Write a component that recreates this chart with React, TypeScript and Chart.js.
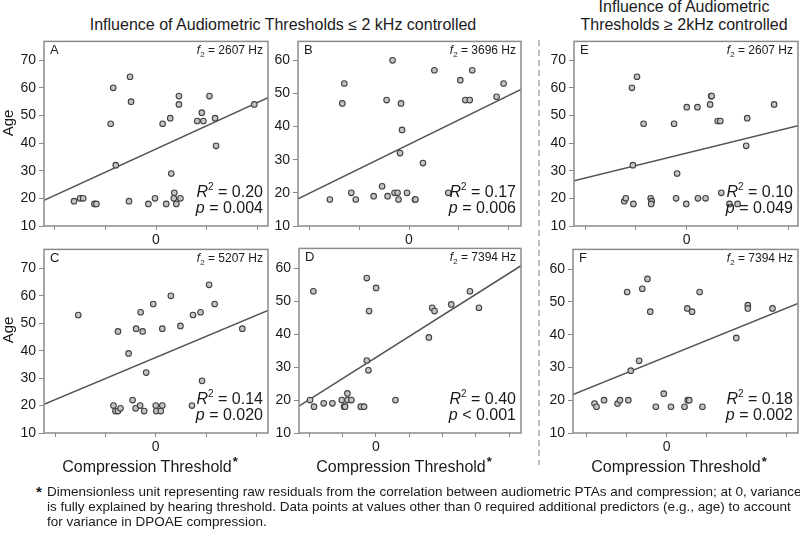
import React, { useEffect, useRef } from 'react';
import { Chart, registerables } from 'chart.js';
Chart.register(...registerables);

const FONT = "'Liberation Sans', Arial, Helvetica, sans-serif";
Chart.defaults.font.family = FONT;

// ---------- data ----------
const ageTicks70 = [10, 20, 30, 40, 50, 60, 70];
const ageTicks60 = [10, 20, 30, 40, 50, 60];
const xTicksSym = [-2, -1, 0, 1, 2];
const xTicksD = [-2, -1, 0, 1, 2, 3, 4];
const xTicksF = [-2, -1, 0, 1, 2, 3];

const panelA_x = [-1.61, -1.49, -1.43, -1.21, -1.17, -0.89, -0.84, -0.79, -0.53, -0.51, -0.49, -0.15, -0.02, 0.13, 0.2, 0.28, 0.3, 0.35, 0.36, 0.4, 0.45, 0.45, 0.48, 0.81, 0.9, 0.93, 1.05, 1.16, 1.18, 1.93];
const panelA_age = [19, 20, 20, 18, 18, 47, 60, 32, 19, 64, 55, 18, 20, 47, 18, 49, 29, 20, 22, 18, 57, 54, 20, 48, 51, 48, 57, 49, 39, 54];

const panelB_x = [-1.59, -1.34, -1.3, -1.16, -1.07, -0.71, -0.54, -0.45, -0.43, -0.33, -0.29, -0.23, -0.21, -0.18, -0.16, -0.14, -0.04, 0.12, 0.13, 0.28, 0.51, 0.79, 1.03, 1.13, 1.22, 1.27, 1.76, 1.9];
const panelB_age = [18, 47, 53, 20, 18, 19, 22, 48, 19, 60, 20, 20, 18, 32, 47, 39, 20, 18, 18, 29, 57, 20, 54, 48, 48, 57, 49, 53];

const panelC_x = [-1.54, -0.84, -0.8, -0.75, -0.75, -0.7, -0.54, -0.46, -0.4, -0.39, -0.31, -0.3, -0.26, -0.23, -0.19, -0.05, 0.0, 0.01, 0.1, 0.13, 0.13, 0.3, 0.49, 0.72, 0.74, 0.89, 0.92, 1.06, 1.17, 1.72];
const panelC_age = [53, 20, 18, 18, 47, 19, 39, 22, 19, 48, 20, 54, 47, 18, 32, 57, 20, 18, 18, 20, 48, 60, 49, 20, 53, 54, 29, 64, 57, 48];

const panelD_x = [-1.97, -1.87, -1.85, -1.56, -1.3, -1.02, -0.95, -0.92, -0.85, -0.85, -0.73, -0.45, -0.35, -0.27, -0.27, -0.22, -0.2, 0.01, 0.59, 1.59, 1.69, 1.76, 2.26, 2.82, 3.09];
const panelD_age = [20, 53, 18, 19, 19, 20, 18, 18, 22, 20, 20, 18, 18, 57, 32, 29, 47, 54, 20, 39, 48, 47, 49, 53, 48];

const panelE_x = [-1.23, -1.2, -1.08, -1.06, -1.05, -0.98, -0.85, -0.71, -0.69, -0.7, -0.25, -0.19, -0.21, -0.01, 0.0, 0.21, 0.22, 0.37, 0.46, 0.48, 0.49, 0.61, 0.66, 0.68, 0.84, 1.0, 1.17, 1.19, 1.72];
const panelE_age = [19, 20, 60, 32, 18, 64, 47, 20, 19, 18, 47, 29, 20, 18, 53, 53, 20, 20, 54, 57, 57, 48, 48, 22, 18, 18, 39, 49, 54];

const panelF_x = [-1.81, -1.76, -1.57, -1.23, -1.17, -0.99, -0.96, -0.9, -0.69, -0.61, -0.48, -0.41, -0.27, -0.07, 0.11, 0.45, 0.52, 0.53, 0.57, 0.64, 0.83, 0.9, 1.75, 2.04, 2.04, 2.66];
const panelF_age = [19, 18, 20, 19, 20, 53, 20, 29, 32, 54, 57, 47, 18, 22, 18, 18, 48, 20, 20, 47, 53, 18, 39, 49, 48, 48];

const panelLetters = ['A', 'B', 'C', 'D', 'E', 'F'];
const f2Hz = ['2607', '3696', '5207', '7394', '2607', '7394'];
const r2Values = ['0.20', '0.17', '0.14', '0.40', '0.10', '0.18'];
const pValues = ['= 0.004', '= 0.006', '= 0.020', '< 0.001', '= 0.049', '= 0.002'];
const fitIntercepts = [37.85, 34.64, 37.5, 32.9, 36.4, 33.3];
const fitSlopes = [8.43, 7.36, 7.69, 6.4, 4.5, 4.91];

const mainTitle = 'Influence of Audiometric Thresholds \u2264 2 kHz controlled';
const sideTitle = ['Influence of Audiometric', 'Thresholds \u2265 2kHz controlled'];
const yTitle = 'Age';
const xTitle = 'Compression Threshold';
const footnote = [
  'Dimensionless unit representing raw residuals from the correlation between audiometric PTAs and compression; at 0, variance',
  'is fully explained by hearing threshold. Data points at values other than 0 required additional predictors (e.g., age) to account',
  'for variance in DPOAE compression.',
];

// ---------- layout ----------
const YW = 40, PT = 10, PR = 10, XH = 30;
type Geo = { l: number; t: number; r: number; b: number; xmin: number; xmax: number; ymax: number };

type Part = { t: string; size: number; italic?: boolean; dy?: number };
function drawRight(ctx: CanvasRenderingContext2D, parts: Part[], right: number, base: number) {
  const fontOf = (p: Part) => `${p.italic ? 'italic ' : ''}${p.size}px ${FONT}`;
  let total = 0;
  const ws = parts.map((p) => {
    ctx.font = fontOf(p);
    const w = ctx.measureText(p.t).width;
    total += w;
    return w;
  });
  let x = right - total;
  parts.forEach((p, i) => {
    ctx.font = fontOf(p);
    ctx.fillText(p.t, x, base + (p.dy || 0));
    x += ws[i];
  });
}

function Panel(props: {
  xs: number[]; ys: number[]; idx: number; xTicks: number[]; yTicks: number[]; geo: Geo;
}) {
  const { xs, ys, idx, xTicks, yTicks, geo } = props;
  const ref = useRef<HTMLCanvasElement>(null);
  const w = geo.r - geo.l + YW + PR;
  const h = geo.b - geo.t + PT + XH;
  useEffect(() => {
    const canvas = ref.current as HTMLCanvasElement;
    const a = fitIntercepts[idx];
    const s = fitSlopes[idx];
    const textPlugin = {
      id: 'panelText',
      afterDraw(chart: any) {
        const { ctx, chartArea: ca } = chart;
        ctx.save();
        ctx.strokeStyle = '#8a8a8a';
        ctx.lineWidth = 1.5;
        ctx.strokeRect(ca.left, ca.top, ca.right - ca.left, ca.bottom - ca.top);
        ctx.fillStyle = '#1a1a1a';
        ctx.textBaseline = 'alphabetic';
        ctx.textAlign = 'left';
        ctx.font = `13px ${FONT}`;
        ctx.fillText(panelLetters[idx], ca.left + 6, ca.top + 13);
        drawRight(ctx, [
          { t: 'f', size: 12, italic: true },
          { t: '2', size: 8, dy: 3 },
          { t: ' = ' + f2Hz[idx] + ' Hz', size: 12 },
        ], ca.right - 5, ca.top + 13);
        drawRight(ctx, [
          { t: 'R', size: 16, italic: true },
          { t: '2', size: 10, dy: -7 },
          { t: ' = ' + r2Values[idx], size: 16 },
        ], ca.right - 5, ca.bottom - 29);
        drawRight(ctx, [
          { t: 'p', size: 16, italic: true },
          { t: ' ' + pValues[idx], size: 16 },
        ], ca.right - 5, ca.bottom - 13);
        ctx.restore();
      },
    };
    const grid = { drawOnChartArea: false, drawTicks: true, tickLength: 5, color: '#8a8a8a', lineWidth: 1 };
    const chart = new Chart(canvas, {
      type: 'scatter',
      data: {
        datasets: [
          {
            data: [
              { x: geo.xmin, y: a + s * geo.xmin },
              { x: geo.xmax, y: a + s * geo.xmax },
            ],
            showLine: true,
            borderColor: '#555555',
            borderWidth: 1.5,
            pointRadius: 0,
            order: 2,
          } as any,
          {
            data: xs.map((x, i) => ({ x, y: ys[i] })),
            showLine: false,
            pointRadius: 2.8,
            pointBorderWidth: 1.1,
            pointBackgroundColor: '#c4c4c4',
            pointBorderColor: '#404040',
            order: 1,
          } as any,
        ],
      },
      options: {
        responsive: false,
        animation: false,
        devicePixelRatio: 1,
        layout: { padding: { top: PT, right: PR, left: 0, bottom: 0 } },
        plugins: { legend: { display: false }, tooltip: { enabled: false } },
        scales: {
          x: {
            type: 'linear',
            min: geo.xmin,
            max: geo.xmax,
            afterBuildTicks: (sc: any) => { sc.ticks = xTicks.map((v) => ({ value: v })); },
            afterFit: (sc: any) => { sc.height = XH; },
            grid: { ...grid, tickLength: 4 },
            border: { display: false },
            ticks: {
              autoSkip: false, maxRotation: 0, padding: 2, color: '#1a1a1a',
              font: { family: FONT, size: 14 },
              callback: (v: any) => (Number(v) === 0 ? '0' : ''),
            },
          },
          y: {
            type: 'linear',
            min: 10,
            max: geo.ymax,
            afterBuildTicks: (sc: any) => { sc.ticks = yTicks.map((v) => ({ value: v })); },
            afterFit: (sc: any) => { sc.width = YW; },
            grid,
            border: { display: false },
            ticks: {
              autoSkip: false, padding: 3, color: '#1a1a1a',
              font: { family: FONT, size: 14 },
              callback: (v: any) => String(v),
            },
          },
        },
      } as any,
      plugins: [textPlugin],
    });
    return () => chart.destroy();
  }, []);
  return (
    <canvas
      ref={ref}
      width={w}
      height={h}
      style={{ position: 'absolute', left: geo.l - YW, top: geo.t - PT, width: w, height: h }}
    />
  );
}

const geoA: Geo = { l: 44, t: 40, r: 268, b: 226, xmin: -2.2, xmax: 2.2, ymax: 76.8 };
const geoB: Geo = { l: 298, t: 40, r: 521, b: 226, xmin: -2.23, xmax: 2.25, ymax: 65.7 };
const geoE: Geo = { l: 574, t: 40, r: 798, b: 226, xmin: -2.22, xmax: 2.19, ymax: 76.8 };
const geoC: Geo = { l: 44, t: 248, r: 268, b: 433, xmin: -2.22, xmax: 2.23, ymax: 76.9 };
const geoD: Geo = { l: 299, t: 247, r: 521, b: 433, xmin: -2.3, xmax: 4.35, ymax: 66 };
const geoF: Geo = { l: 573, t: 248, r: 798, b: 433, xmin: -2.35, xmax: 3.3, ymax: 66 };

const abs = (s: React.CSSProperties): React.CSSProperties => ({ position: 'absolute', whiteSpace: 'nowrap', ...s });

function XTitle({ cx }: { cx: number }) {
  return (
    <div style={abs({ left: cx - 120, width: 240, top: 458, textAlign: 'center', fontSize: 16, lineHeight: '18px' })}>
      {xTitle}
      <span style={{ fontSize: 13, fontWeight: 'bold', position: 'relative', top: -6, marginLeft: 1 }}>*</span>
    </div>
  );
}

function YTitle({ cy }: { cy: number }) {
  return (
    <div style={abs({ left: -22, top: cy - 10, width: 60, height: 20, lineHeight: '20px', textAlign: 'center', fontSize: 15, transform: 'rotate(-90deg)' })}>
      {yTitle}
    </div>
  );
}

export default function App() {
  return (
    <div style={{ position: 'fixed', left: 0, top: 0, width: 800, height: 534, background: '#fff', overflow: 'hidden', fontFamily: FONT, color: '#1a1a1a' }}>
      <div style={abs({ left: 83, width: 400, top: 16, textAlign: 'center', fontSize: 16, lineHeight: '18px' })}>{mainTitle}</div>
      <div style={abs({ left: 554, width: 260, top: -2, textAlign: 'center', fontSize: 16, lineHeight: '18px' })}>
        {sideTitle[0]}<br />{sideTitle[1]}
      </div>
      <div style={abs({ left: 538, top: 40, width: 1.5, height: 425, background: 'repeating-linear-gradient(to bottom, #bdbdbd 0px, #bdbdbd 6px, transparent 6px, transparent 10px)' })} />
      <Panel xs={panelA_x} ys={panelA_age} idx={0} xTicks={xTicksSym} yTicks={ageTicks70} geo={geoA} />
      <Panel xs={panelB_x} ys={panelB_age} idx={1} xTicks={xTicksSym} yTicks={ageTicks60} geo={geoB} />
      <Panel xs={panelC_x} ys={panelC_age} idx={2} xTicks={xTicksSym} yTicks={ageTicks70} geo={geoC} />
      <Panel xs={panelD_x} ys={panelD_age} idx={3} xTicks={xTicksD} yTicks={ageTicks60} geo={geoD} />
      <Panel xs={panelE_x} ys={panelE_age} idx={4} xTicks={xTicksSym} yTicks={ageTicks70} geo={geoE} />
      <Panel xs={panelF_x} ys={panelF_age} idx={5} xTicks={xTicksF} yTicks={ageTicks60} geo={geoF} />
      <YTitle cy={123} />
      <YTitle cy={330} />
      <XTitle cx={150} />
      <XTitle cx={404} />
      <XTitle cx={679} />
      <div style={abs({ left: 36, top: 483, fontSize: 15, fontWeight: 'bold' })}>*</div>
      {footnote.map((line, i) => (
        <div key={i} style={abs({ left: 47, top: 484 + i * 15, fontSize: 13.5, lineHeight: '15px' })}>{line}</div>
      ))}
    </div>
  );
}
